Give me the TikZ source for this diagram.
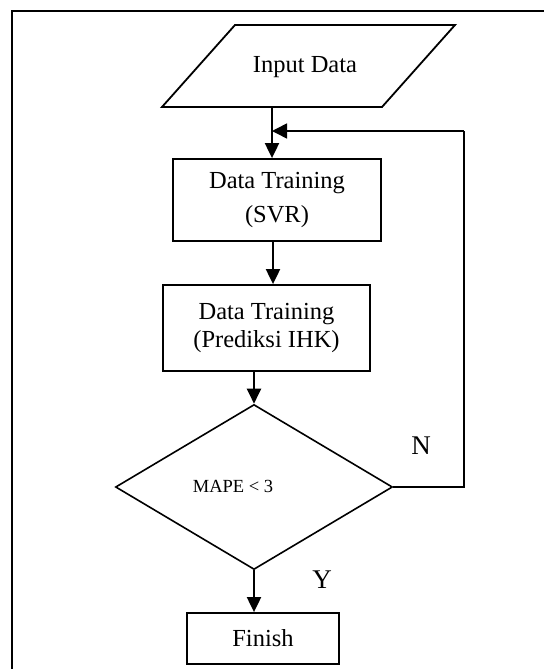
\documentclass[tikz,border=0pt]{standalone}
\usepackage{fontspec}
\setmainfont{Liberation Serif}
\usetikzlibrary{arrows.meta,shapes.geometric}
\begin{document}
\begin{tikzpicture}[x=1pt,y=-1pt,
  line/.style={line width=1.8pt},
  arr/.style={line width=2pt,-{Triangle[length=15pt,width=14pt]}},
  procbox/.style={draw,line width=1.8pt,inner sep=0pt,align=center,font=\fontsize{24.5}{34}\selectfont},
  lbl/.style={inner sep=0pt,font=\fontsize{27}{30}\selectfont}]
\useasboundingbox (0,0) rectangle (544,669);
% frame
\draw[line width=2pt] (12,669) -- (12,11) -- (544,11);
% input parallelogram
\draw[line] (235,25) -- (455,25) -- (382,107) -- (162,107) -- cycle;
\node[inner sep=0pt,font=\fontsize{24.5}{28}\selectfont] (in) at (305,67) {Input Data};
\coordinate (inb) at (272,107);
% process boxes
\node[procbox,minimum width=208pt,minimum height=82pt] (b1) at (277,200) {Data Training\\(SVR)};
\node[procbox,minimum width=207pt,minimum height=86pt,font=\fontsize{24.5}{28}\selectfont] (b2) at (266.5,328) {Data Training\\(Prediksi IHK)};
% decision
\node[draw,diamond,line width=1.6pt,inner sep=0pt,minimum width=277pt,minimum height=165pt] (dia) at (254,487) {};
\node[inner sep=0pt,font=\fontsize{18.5}{20}\selectfont] (mape) at (233,486) {MAPE < 3};
% finish
\node[procbox,minimum width=152pt,minimum height=51pt] (fin) at (263,638.5) {Finish};
% connectors
\coordinate (jn) at (272,131);
\coordinate (cr) at (464,131);
\draw[arr] (inb) -- (b1.north -| inb);
\draw[arr] (b1.south -| 273,0) -- (b2.north -| 273,0);
\draw[arr] (b2.south -| dia.north) -- (dia.north);
\draw[arr] (dia.south) -- (fin.north -| dia.south);
\draw[line width=1.5pt] (dia.east) -| (cr);
\draw[line width=1.5pt,-{Triangle[length=15pt,width=15pt]}] (cr) -- (jn);
% labels
\node[lbl] (nl) at (421,446) {N};
\node[lbl] (yl) at (322,580) {Y};
\end{tikzpicture}
\end{document}
